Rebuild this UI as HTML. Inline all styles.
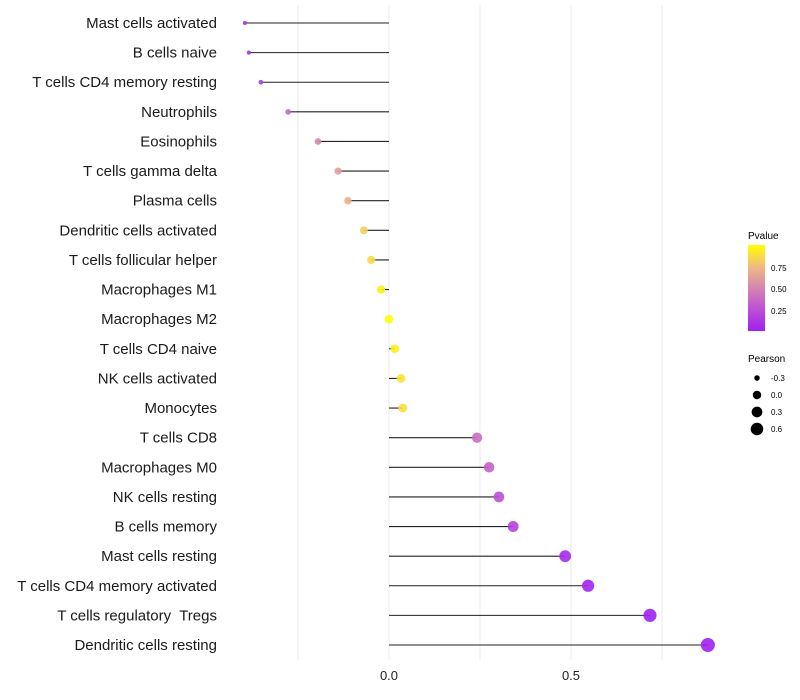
<!DOCTYPE html>
<html><head><meta charset="utf-8"><style>
body{margin:0;background:#fff;font-family:"Liberation Sans",Arial,sans-serif}
svg{display:block}
text{white-space:pre}
</style></head><body>
<svg id="chart" width="800" height="700">
<defs>
<linearGradient id="pg" x1="0" y1="1" x2="0" y2="0">
<stop offset="0" stop-color="#A020F0"/><stop offset="0.3" stop-color="#C259D0"/><stop offset="0.5" stop-color="#D585B0"/><stop offset="0.75" stop-color="#F0BB80"/><stop offset="1" stop-color="#FFFF00"/>
</linearGradient>
</defs>
<g id="grid"></g><g id="marks"></g><g id="labels"></g>
<g>
<text x="748" y="239" font-size="10">Pvalue</text>
<rect x="748" y="245" width="17" height="86" fill="url(#pg)"/>
<text x="771" y="271" font-size="8">0.75</text>
<text x="771" y="292" font-size="8">0.50</text>
<text x="771" y="314" font-size="8">0.25</text>
</g>
<g id="sizeLegend">
<text x="748" y="362" font-size="10">Pearson</text>
</g>
</svg>
<script>
const categories=["Mast cells activated","B cells naive","T cells CD4 memory resting","Neutrophils","Eosinophils","T cells gamma delta","Plasma cells","Dendritic cells activated","T cells follicular helper","Macrophages M1","Macrophages M2","T cells CD4 naive","NK cells activated","Monocytes","T cells CD8","Macrophages M0","NK cells resting","B cells memory","Mast cells resting","T cells CD4 memory activated","T cells regulatory  Tregs","Dendritic cells resting"];
const pearson=[-0.396,-0.385,-0.352,-0.277,-0.195,-0.140,-0.113,-0.069,-0.049,-0.022,0.0,0.016,0.033,0.038,0.242,0.275,0.302,0.341,0.484,0.547,0.717,0.876];
const pvalues=[0.08,0.1,0.15,0.38,0.52,0.62,0.7,0.82,0.86,0.95,1.0,0.95,0.9,0.88,0.4,0.33,0.25,0.18,0.06,0.03,0.01,0.003];
const xTicks=[0.0,0.5];
const gridVals=[-0.25,0,0.25,0.5,0.75];
const sizeBreaks=[-0.3,0.0,0.3,0.6];
const NS="http://www.w3.org/2000/svg";
const x=v=>389+v*364;
const y=i=>23+i*(622/21);
const r=v=>Math.sqrt(Math.max(1,18.1+35.3*v));
function lerp(a,b,t){return a.map((c,i)=>Math.round(c+(b[i]-c)*t));}
const stops=[[0,[160,32,240]],[0.3,[194,89,208]],[0.5,[213,133,176]],[0.75,[240,187,128]],[1,[255,255,0]]];
function col(p){for(let k=1;k<stops.length;k++){if(p<=stops[k][0]){const t=(p-stops[k-1][0])/(stops[k][0]-stops[k-1][0]);const c=lerp(stops[k-1][1],stops[k][1],t);return `rgb(${c})`;}}return 'rgb(255,255,0)';}
function mk(tag,attrs,parent){const e=document.createElementNS(NS,tag);for(const k in attrs)e.setAttribute(k,attrs[k]);parent.appendChild(e);return e;}
const grid=document.getElementById('grid'),marks=document.getElementById('marks'),labels=document.getElementById('labels');
gridVals.forEach(v=>{const l=mk('line',{x1:x(v),x2:x(v),y1:5,y2:660,stroke:'#ebebeb','stroke-width':1},grid);

});
categories.forEach((c,i)=>{
const t=mk('text',{x:217,y:y(i)+5,'text-anchor':'end','font-size':15,fill:'#1a1a1a'},labels);t.textContent=c;


const s=mk('line',{x1:x(0),x2:x(pearson[i]),y1:y(i),y2:y(i),stroke:'#222','stroke-width':1.1},marks);


const d=mk('circle',{cx:x(pearson[i]),cy:y(i),r:r(pearson[i]),fill:col(pvalues[i]),'fill-opacity':0.9},marks);


});
xTicks.forEach(v=>{const t=mk('text',{x:x(v),y:680,'text-anchor':'middle','font-size':13,fill:'#222'},labels);t.textContent=v.toFixed(1);

});
const sl=document.getElementById('sizeLegend');
sizeBreaks.forEach((v,k)=>{const cy=378+k*17;
const c=mk('circle',{cx:757,cy:cy,r:r(v),fill:'#000'},sl);


const t=mk('text',{x:771,y:cy+3,'font-size':8},sl);t.textContent=v.toFixed(1);

});
</script>
</body></html>
